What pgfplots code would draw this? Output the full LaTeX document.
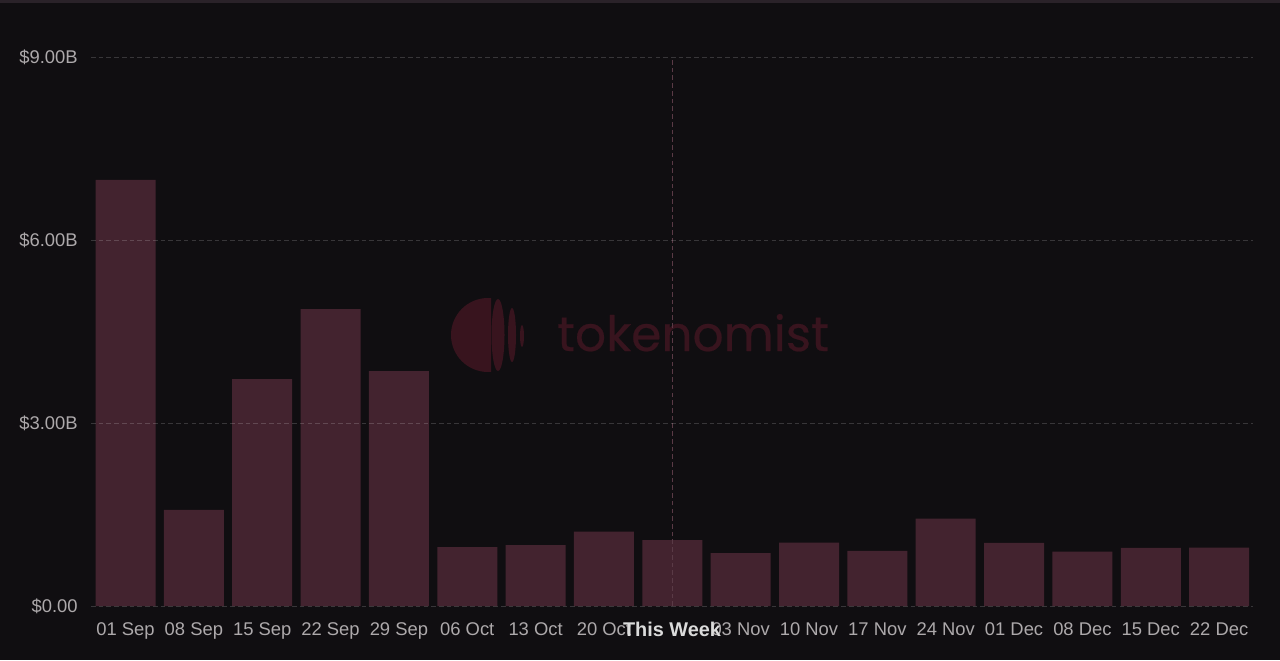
\documentclass[border=0pt]{standalone}
\usepackage{pgfplots}
\pgfplotsset{compat=1.18}
\usepackage{fontspec}
\setmainfont{Liberation Sans}
\newfontfamily\logofont[FakeBold=0.4]{Poppins}
\definecolor{bgc}{HTML}{100E11}
\definecolor{barc}{HTML}{43232F}
\definecolor{tickc}{HTML}{ADA9AB}
\definecolor{logoc}{HTML}{38141E}
\definecolor{vlinec}{HTML}{5A3A46}
\definecolor{topc}{HTML}{2A2229}
\begin{document}
\begin{tikzpicture}[x=0.75pt,y=-0.75pt]
\useasboundingbox (0,0) rectangle (1280,660);
\fill[bgc] (0,0) rectangle (1280,660);
\fill[topc] (0,0) rectangle (1280,3);
% watermark
\begin{scope}
\clip (440,290) rectangle (491,380);
\fill[logoc] (488,335) circle [radius=37];
\end{scope}
\fill[logoc] (498,335) ellipse [x radius=6.5,y radius=36];
\fill[logoc] (512,335) ellipse [x radius=4,y radius=27];
\fill[logoc] (522,336) ellipse [x radius=2,y radius=11];
\node[anchor=base west,inner sep=0pt,text=logoc,font=\logofont\fontsize{36.5}{37}\selectfont] at (557,351) {tokenomist};
\begin{axis}[
  at={(68.25pt,-454.5pt)},anchor=south west,
  scale only axis,width=871.5pt,height=411.75pt,
  xmin=-0.505,xmax=16.496,ymin=0,ymax=9,
  axis line style={draw=none},
  axis on top,
  ybar,bar width=0.878,bar shift=0pt,
  xtick={0,...,16},
  xticklabels={01 Sep,08 Sep,15 Sep,22 Sep,29 Sep,06 Oct,13 Oct,20 Oct,{},03 Nov,10 Nov,17 Nov,24 Nov,01 Dec,08 Dec,15 Dec,22 Dec},
  ytick={0,3,6,9},
  yticklabels={\$0.00,\$3.00B,\$6.00B,\$9.00B},
  tick style={draw=none},
  ymajorgrids,
  grid style={white,opacity=0.17,line width=0.75pt,dash pattern=on 3.5pt off 2.3pt},
  xticklabel style={font=\fontsize{13.8}{16}\selectfont,text=tickc,text height=10pt,text depth=0pt,yshift=-4.5pt},
  yticklabel style={font=\fontsize{13.8}{16}\selectfont,text=tickc,xshift=-6.5pt,yshift=-0.5pt},
  clip=false,
]
\addplot[fill=barc,draw=none] coordinates {
(0,6.984) (1,1.574) (2,3.721) (3,4.869) (4,3.852) (5,0.967) (6,1.0) (7,1.221)
(8,1.082) (9,0.869) (10,1.041) (11,0.902) (12,1.434) (13,1.033) (14,0.893) (15,0.951) (16,0.959)};
\addplot[sharp plot,vlinec,line width=0.75pt,dash pattern=on 3.5pt off 2.3pt] coordinates {(8,0) (8,9)};
\end{axis}
\node[font=\bfseries\fontsize{14.9}{16}\selectfont,text=white!85!bgc,inner sep=0pt] at (672,629) {This Week};
\end{tikzpicture}
\end{document}
